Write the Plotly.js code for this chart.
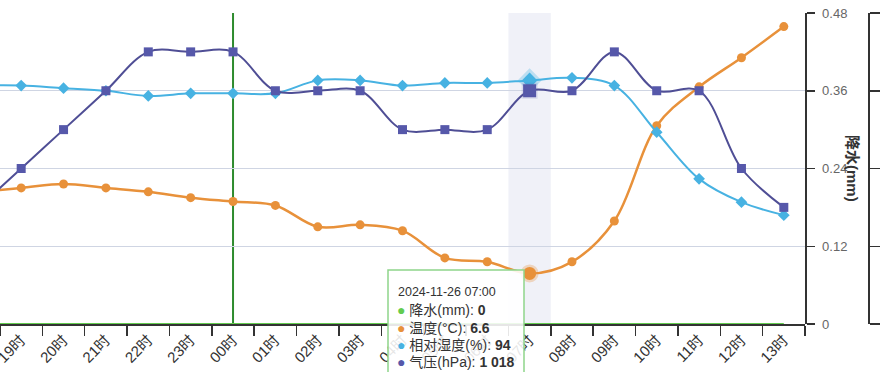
<!DOCTYPE html>
<html>
<head>
<meta charset="utf-8">
<script src="https://cdn.plot.ly/plotly-3.0.1.min.js"></script>
<style>html,body{margin:0;padding:0;background:#fff;}#chart{width:880px;height:372px;}</style>
</head>
<body>
<div id="chart"></div>
<script>
// Hour categories (first one lies just off the left edge of the cropped view)
const categories = ['18时','19时','20时','21时','22时','23时','00时','01时','02时','03时','04时','05时','06时','07时','08时','09时','10时','11时','12时','13时'];
// 降水(mm)
const precip   = [0,0,0,0,0,0,0,0,0,0,0,0,0,0,0,0,0,0,0,0];
// 温度(°C)
const temp     = [10.8,11.0,11.2,11.0,10.8,10.5,10.3,10.1,9.0,9.1,8.8,7.4,7.2,6.6,7.2,9.3,14.2,16.2,17.7,19.3];
// 相对湿度(%)
const humidity = [92,92,91,90,88,89,89,89,94,94,92,93,93,94,95,92,74,56,47,42];
// 气压(hPa)
const pressure = [1015,1016,1017,1018,1019,1019,1019,1018,1018,1018,1017,1017,1017,1018,1018,1019,1018,1018,1016,1015];
const precipTicks = [0,0.12,0.24,0.36,0.48];
const dayMark = '00时';
const hoverCat = '07时';
const hoverDate = '2024-11-26 07:00';

(function () {
const W = 880, H = 372;
const plotRight = 805, axis2X = 868, plotTop = 13, plotBottom = 324;
const px = v => v / W;
const py = v => (plotBottom - v) / (plotBottom - plotTop);

const cOrange = '#e8913a', cBlue = '#47b2e2', cPurpleLine = '#4f4e95', cPurple = '#5658aa', cGreen = '#63cc4f';
const hi = categories.indexOf(hoverCat);
const fmtThousands = n => String(n).replace(/\B(?=(\d{3})+(?!\d))/g, ' ');

const font = 'Liberation Sans, Arial, Noto Sans CJK SC, sans-serif';

const traces = [
  {x: categories, y: precip, yaxis: 'y', type: 'scatter', mode: 'lines', line: {color: cGreen, width: 2, shape: 'spline'}, hoverinfo: 'skip'},
  {x: categories, y: temp, yaxis: 'y2', type: 'scatter', mode: 'lines+markers', line: {color: cOrange, width: 2.5, shape: 'spline', smoothing: 1}, marker: {color: cOrange, size: 9, symbol: 'circle'}, hoverinfo: 'skip'},
  {x: categories, y: humidity, yaxis: 'y3', type: 'scatter', mode: 'lines+markers', line: {color: cBlue, width: 2, shape: 'spline', smoothing: 1}, marker: {color: cBlue, size: 9, symbol: 'diamond'}, hoverinfo: 'skip'},
  {x: categories, y: pressure, yaxis: 'y4', type: 'scatter', mode: 'lines+markers', line: {color: cPurpleLine, width: 2, shape: 'spline', smoothing: 1}, marker: {color: cPurple, size: 9, symbol: 'square'}, hoverinfo: 'skip'},
  // hover halos at the highlighted hour
  {x: [categories[hi]], y: [temp[hi]], yaxis: 'y2', type: 'scatter', mode: 'markers', marker: {color: cOrange, size: 13, line: {color: 'rgba(232,145,58,0.3)', width: 5}}, hoverinfo: 'skip'},
  {x: [categories[hi]], y: [humidity[hi]], yaxis: 'y3', type: 'scatter', mode: 'markers', marker: {color: cBlue, size: 12, symbol: 'diamond', line: {color: 'rgba(71,178,226,0.3)', width: 6}}, hoverinfo: 'skip'},
  {x: [categories[hi]], y: [pressure[hi]], yaxis: 'y4', type: 'scatter', mode: 'markers', marker: {color: cPurple, size: 13, symbol: 'square', line: {color: 'rgba(86,88,170,0.15)', width: 3}}, hoverinfo: 'skip'}
];

const tipX0 = 388, tipX1 = 524, tipY0 = 270, tipY1 = 380;
const rows = [
  {c: cGreen, t: '降水(mm): ', v: String(precip[hi]), y: 310},
  {c: cOrange, t: '温度(°C): ', v: String(temp[hi]), y: 327.5},
  {c: cBlue, t: '相对湿度(%): ', v: String(humidity[hi]), y: 345},
  {c: cPurple, t: '气压(hPa): ', v: fmtThousands(pressure[hi]), y: 362}
];

const annotations = [
  {xref: 'paper', yref: 'paper', x: px(853), y: py(168), text: '<b>降水(mm)</b>', textangle: 90, showarrow: false,
   font: {family: font, size: 15, color: '#333'}, xanchor: 'center', yanchor: 'middle'},
  {xref: 'paper', yref: 'paper', x: px(396), y: py(292), text: hoverDate, showarrow: false,
   font: {family: font, size: 12.5, color: '#333'}, xanchor: 'left', yanchor: 'middle'}
];
rows.forEach(r => {
  annotations.push({xref: 'paper', yref: 'paper', x: px(395), y: py(r.y), showarrow: false, xanchor: 'left', yanchor: 'middle',
    text: '<span style="color:' + r.c + '">●</span> ' + r.t + '<b>' + r.v + '</b>',
    font: {family: font, size: 14, color: '#333'}});
});

const layout = {
  width: W, height: H,
  margin: {l: 0, r: 0, t: plotTop, b: H - plotBottom},
  paper_bgcolor: '#fff', plot_bgcolor: '#fff',
  showlegend: false, hovermode: false,
  font: {family: font, color: '#333'},
  xaxis: {
    type: 'category', categoryorder: 'array', categoryarray: categories,
    range: [0.5, categories.length - 0.5], domain: [0, px(plotRight)],
    tickson: 'boundaries', ticks: 'outside', ticklen: 10, tickwidth: 1.5, tickcolor: '#333',
    showline: true, linecolor: '#333', linewidth: 1.5, showgrid: false, zeroline: false,
    tickangle: -45, tickfont: {family: font, size: 15, color: '#333'}, automargin: false, fixedrange: true
  },
  yaxis: {
    range: [0, 0.48], tickvals: precipTicks, side: 'right', anchor: 'free', position: px(plotRight),
    showline: true, linecolor: '#333', linewidth: 1.5, ticks: 'outside', ticklen: 8, tickwidth: 1.5, tickcolor: '#333',
    showgrid: true, gridcolor: '#cfd5e3', gridwidth: 1.2, zeroline: false, ticklabelstandoff: 5,
    tickfont: {family: font, size: 13, color: '#666'}, automargin: false, fixedrange: true
  },
  yaxis2: {
    range: [4, 20], dtick: 4, overlaying: 'y', side: 'right', anchor: 'free', position: px(axis2X),
    showline: true, linecolor: '#333', linewidth: 1.5, ticks: 'outside', ticklen: 12, tickwidth: 1.5, tickcolor: '#333',
    showticklabels: false, showgrid: false, zeroline: false, automargin: false, fixedrange: true
  },
  yaxis3: {range: [0, 120], overlaying: 'y', visible: false, fixedrange: true},
  yaxis4: {range: [1012, 1020], overlaying: 'y', visible: false, fixedrange: true},
  shapes: [
    {type: 'rect', xref: 'x', yref: 'paper', x0: hi - 0.5, x1: hi + 0.5, y0: 0, y1: 1,
     fillcolor: '#f0f1f8', line: {width: 0}, layer: 'below'},
    {type: 'line', xref: 'x', yref: 'paper', x0: categories.indexOf(dayMark), x1: categories.indexOf(dayMark), y0: 0, y1: 1,
     line: {color: '#2e8b2e', width: 2}, layer: 'between'},
    {type: 'rect', xref: 'paper', yref: 'paper', x0: px(tipX0), x1: px(tipX1), y0: py(tipY1), y1: py(tipY0),
     fillcolor: 'rgba(255,255,255,0.88)', line: {color: '#8fd58a', width: 1.5}, layer: 'above'}
  ],
  annotations: annotations
};

Plotly.newPlot('chart', traces, layout, {displayModeBar: false, staticPlot: true});
})();
</script>
</body>
</html>
